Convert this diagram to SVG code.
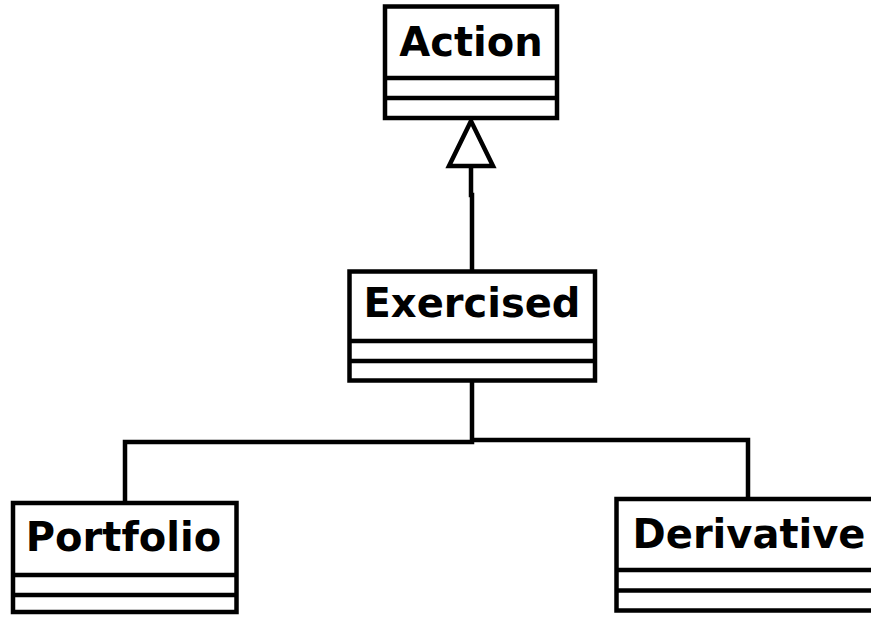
<svg xmlns="http://www.w3.org/2000/svg" width="871" height="617" viewBox="0 0 871 617">
  <style>
    .box { fill: #ffffff; stroke: #000000; stroke-width: 4.5; }
    .div { stroke: #000000; stroke-width: 4.5; fill: none; }
    .wire { stroke: #000000; stroke-width: 4.5; fill: none; }
    .head { fill: #ffffff; stroke: #000000; stroke-width: 4.5; stroke-linejoin: miter; }
    .name { font-family: "DejaVu Sans", "Liberation Sans", sans-serif; font-weight: bold; font-size: 40px; fill: #000000; text-anchor: middle; }
  </style>
  <rect width="871" height="617" fill="#ffffff"/>

  <!-- connectors -->
  <g id="connectors">
    <path class="wire" d="M471,166 V195 H472 V271"/>
    <polygon class="head" points="471,121 449,166 493,166"/>
    <path class="wire" d="M472,381 V442 H125 V503"/>
    <path class="wire" d="M472,440 H748 V499"/>
  </g>

  <!-- class Action -->
  <g id="action">
    <rect class="box" x="385" y="6.5" width="172" height="111.5"/>
    <line class="div" x1="385" y1="78" x2="557" y2="78"/>
    <line class="div" x1="385" y1="98" x2="557" y2="98"/>
    <text class="name" x="471" y="56">Action</text>
  </g>

  <!-- class Exercised -->
  <g id="exercised">
    <rect class="box" x="349.5" y="271.5" width="245.5" height="109"/>
    <line class="div" x1="349.5" y1="341" x2="595" y2="341"/>
    <line class="div" x1="349.5" y1="361" x2="595" y2="361"/>
    <text class="name" x="472" y="317">Exercised</text>
  </g>

  <!-- class Portfolio -->
  <g id="portfolio">
    <rect class="box" x="13" y="503" width="223.5" height="109"/>
    <line class="div" x1="13" y1="575" x2="236.5" y2="575"/>
    <line class="div" x1="13" y1="595" x2="236.5" y2="595"/>
    <text class="name" x="123.5" y="551">Portfolio</text>
  </g>

  <!-- class Derivative -->
  <g id="derivative">
    <rect class="box" x="616.5" y="499" width="264" height="111.5"/>
    <line class="div" x1="616.5" y1="570" x2="880.5" y2="570"/>
    <line class="div" x1="616.5" y1="590.5" x2="880.5" y2="590.5"/>
    <text class="name" x="749" y="548">Derivative</text>
  </g>
</svg>
